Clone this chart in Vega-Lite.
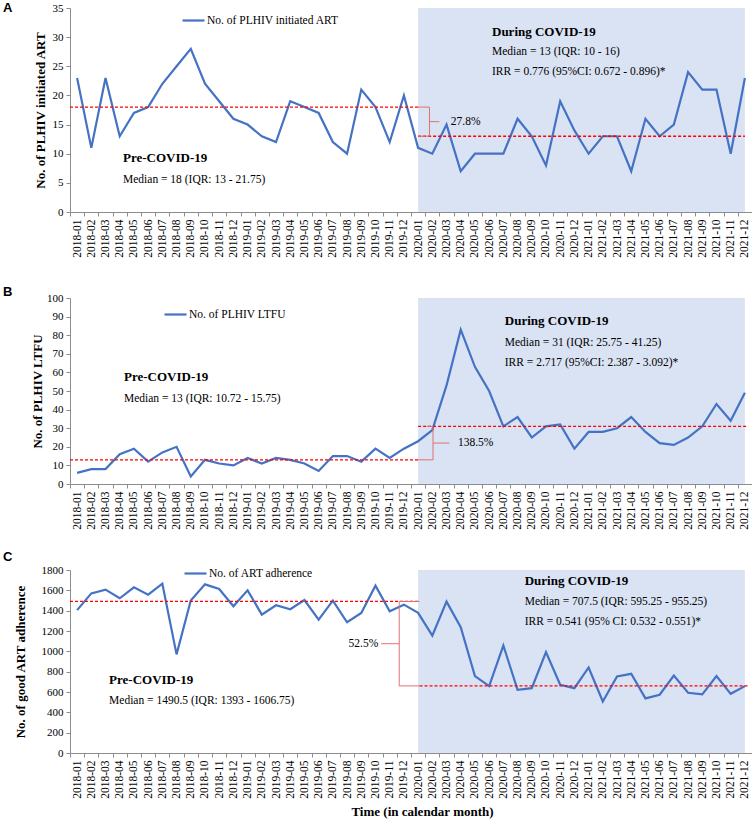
{
  "$schema": "https://vega.github.io/schema/vega-lite/v6.json",
  "background": "white",
  "padding": {"left": 3, "top": 2, "right": 0, "bottom": 0},
  "config": {
    "view": {"stroke": null},
    "font": "Liberation Serif",
    "axis": {"domainColor": "#8c8c8c", "tickColor": "#8c8c8c", "labelColor": "#000000", "labelFont": "Liberation Serif", "labelFontSize": 11, "titleFont": "Liberation Serif", "titleFontSize": 13, "titleFontWeight": "bold", "titleColor": "#000000", "grid": false, "tickSize": 4, "labelPadding": 3},
    "axisX": {"labelFontSize": 11.5, "tickOffset": -7.104, "labelOffset": 7.104, "labelAngle": -90, "labelOverlap": false, "labelFlush": false, "labelBound": false, "labelExpr": "utcFormat(utc(2018, datum.value, 1), '%Y-%m')", "tickSize": 4}
  },
  "datasets": {
    "A": [
      {"x":0,"month":"2018-01","y":23},{"x":1,"month":"2018-02","y":11},{"x":2,"month":"2018-03","y":23},{"x":3,"month":"2018-04","y":13},{"x":4,"month":"2018-05","y":17},{"x":5,"month":"2018-06","y":18},{"x":6,"month":"2018-07","y":22},{"x":7,"month":"2018-08","y":25},{"x":8,"month":"2018-09","y":28},{"x":9,"month":"2018-10","y":22},{"x":10,"month":"2018-11","y":19},{"x":11,"month":"2018-12","y":16},
      {"x":12,"month":"2019-01","y":15},{"x":13,"month":"2019-02","y":13},{"x":14,"month":"2019-03","y":12},{"x":15,"month":"2019-04","y":19},{"x":16,"month":"2019-05","y":18},{"x":17,"month":"2019-06","y":17},{"x":18,"month":"2019-07","y":12},{"x":19,"month":"2019-08","y":10},{"x":20,"month":"2019-09","y":21},{"x":21,"month":"2019-10","y":18},{"x":22,"month":"2019-11","y":12},{"x":23,"month":"2019-12","y":20},
      {"x":24,"month":"2020-01","y":11},{"x":25,"month":"2020-02","y":10},{"x":26,"month":"2020-03","y":15},{"x":27,"month":"2020-04","y":7},{"x":28,"month":"2020-05","y":10},{"x":29,"month":"2020-06","y":10},{"x":30,"month":"2020-07","y":10},{"x":31,"month":"2020-08","y":16},{"x":32,"month":"2020-09","y":13},{"x":33,"month":"2020-10","y":8},{"x":34,"month":"2020-11","y":19},{"x":35,"month":"2020-12","y":14},
      {"x":36,"month":"2021-01","y":10},{"x":37,"month":"2021-02","y":13},{"x":38,"month":"2021-03","y":13},{"x":39,"month":"2021-04","y":7},{"x":40,"month":"2021-05","y":16},{"x":41,"month":"2021-06","y":13},{"x":42,"month":"2021-07","y":15},{"x":43,"month":"2021-08","y":24},{"x":44,"month":"2021-09","y":21},{"x":45,"month":"2021-10","y":21},{"x":46,"month":"2021-11","y":10},{"x":47,"month":"2021-12","y":23}
    ],
    "B": [
      {"x":0,"month":"2018-01","y":6},{"x":1,"month":"2018-02","y":8},{"x":2,"month":"2018-03","y":8},{"x":3,"month":"2018-04","y":16},{"x":4,"month":"2018-05","y":19},{"x":5,"month":"2018-06","y":12},{"x":6,"month":"2018-07","y":17},{"x":7,"month":"2018-08","y":20},{"x":8,"month":"2018-09","y":4},{"x":9,"month":"2018-10","y":13},{"x":10,"month":"2018-11","y":11},{"x":11,"month":"2018-12","y":10},
      {"x":12,"month":"2019-01","y":14},{"x":13,"month":"2019-02","y":11},{"x":14,"month":"2019-03","y":14},{"x":15,"month":"2019-04","y":13},{"x":16,"month":"2019-05","y":11},{"x":17,"month":"2019-06","y":7},{"x":18,"month":"2019-07","y":15},{"x":19,"month":"2019-08","y":15},{"x":20,"month":"2019-09","y":12},{"x":21,"month":"2019-10","y":19},{"x":22,"month":"2019-11","y":14},{"x":23,"month":"2019-12","y":19},
      {"x":24,"month":"2020-01","y":23},{"x":25,"month":"2020-02","y":29},{"x":26,"month":"2020-03","y":53},{"x":27,"month":"2020-04","y":83},{"x":28,"month":"2020-05","y":63},{"x":29,"month":"2020-06","y":50},{"x":30,"month":"2020-07","y":31},{"x":31,"month":"2020-08","y":36},{"x":32,"month":"2020-09","y":25},{"x":33,"month":"2020-10","y":31},{"x":34,"month":"2020-11","y":32},{"x":35,"month":"2020-12","y":19},
      {"x":36,"month":"2021-01","y":28},{"x":37,"month":"2021-02","y":28},{"x":38,"month":"2021-03","y":30},{"x":39,"month":"2021-04","y":36},{"x":40,"month":"2021-05","y":28},{"x":41,"month":"2021-06","y":22},{"x":42,"month":"2021-07","y":21},{"x":43,"month":"2021-08","y":25},{"x":44,"month":"2021-09","y":31},{"x":45,"month":"2021-10","y":43},{"x":46,"month":"2021-11","y":34},{"x":47,"month":"2021-12","y":49}
    ],
    "C": [
      {"x":0,"month":"2018-01","y":1405},{"x":1,"month":"2018-02","y":1570},{"x":2,"month":"2018-03","y":1607},{"x":3,"month":"2018-04","y":1522},{"x":4,"month":"2018-05","y":1630},{"x":5,"month":"2018-06","y":1558},{"x":6,"month":"2018-07","y":1665},{"x":7,"month":"2018-08","y":970},{"x":8,"month":"2018-09","y":1500},{"x":9,"month":"2018-10","y":1659},{"x":10,"month":"2018-11","y":1613},{"x":11,"month":"2018-12","y":1443},
      {"x":12,"month":"2019-01","y":1600},{"x":13,"month":"2019-02","y":1361},{"x":14,"month":"2019-03","y":1453},{"x":15,"month":"2019-04","y":1414},{"x":16,"month":"2019-05","y":1505},{"x":17,"month":"2019-06","y":1312},{"x":18,"month":"2019-07","y":1499},{"x":19,"month":"2019-08","y":1286},{"x":20,"month":"2019-09","y":1378},{"x":21,"month":"2019-10","y":1646},{"x":22,"month":"2019-11","y":1394},{"x":23,"month":"2019-12","y":1459},
      {"x":24,"month":"2020-01","y":1378},{"x":25,"month":"2020-02","y":1155},{"x":26,"month":"2020-03","y":1489},{"x":27,"month":"2020-04","y":1237},{"x":28,"month":"2020-05","y":756},{"x":29,"month":"2020-06","y":658},{"x":30,"month":"2020-07","y":1057},{"x":31,"month":"2020-08","y":622},{"x":32,"month":"2020-09","y":638},{"x":33,"month":"2020-10","y":992},{"x":34,"month":"2020-11","y":671},{"x":35,"month":"2020-12","y":638},
      {"x":36,"month":"2021-01","y":841},{"x":37,"month":"2021-02","y":507},{"x":38,"month":"2021-03","y":753},{"x":39,"month":"2021-04","y":779},{"x":40,"month":"2021-05","y":537},{"x":41,"month":"2021-06","y":573},{"x":42,"month":"2021-07","y":762},{"x":43,"month":"2021-08","y":592},{"x":44,"month":"2021-09","y":576},{"x":45,"month":"2021-10","y":756},{"x":46,"month":"2021-11","y":582},{"x":47,"month":"2021-12","y":658}
    ]
  },
  "bounds": "flush",
  "spacing": 86,
  "resolve": {"scale": {"color": "independent"}, "legend": {"color": "independent"}},
  "vconcat": [
    {
      "width": 682, "height": 204,
      "encoding": {
        "x": {"field": "x", "type": "quantitative", "scale": {"domain": [-0.5, 47.5], "nice": false, "zero": false},
              "axis": {"values": [0,1,2,3,4,5,6,7,8,9,10,11,12,13,14,15,16,17,18,19,20,21,22,23,24,25,26,27,28,29,30,31,32,33,34,35,36,37,38,39,40,41,42,43,44,45,46,47], "title": null}},
        "y": {"field": "y", "type": "quantitative", "scale": {"domain": [0, 35], "nice": false},
              "axis": {"values": [0,5,10,15,20,25,30,35], "format": "d", "title": "No. of PLHIV initiated ART", "titlePadding": 5}}
      },
      "layer": [
        {"data": {"values": [{"x": 24, "x2": 47, "y": 0, "y2": 35}]},
         "mark": {"type": "rect", "color": "#DAE3F3"},
         "encoding": {"x2": {"field": "x2"}, "y2": {"field": "y2"}}},
        {"data": {"name": "A"},
         "mark": {"type": "line", "strokeWidth": 2.2},
         "encoding": {
           "color": {"datum": "No. of PLHIV initiated ART", "scale": {"range": ["#4472C4"]},
                     "legend": {"orient": "none", "legendX": 111, "legendY": 0, "title": null, "symbolType": "stroke", "symbolSize": 484, "symbolStrokeWidth": 2.2, "labelFont": "Liberation Serif", "labelFontSize": 11.5, "labelColor": "#000000", "padding": 0, "labelOffset": 1}}
         }},
        {"data": {"values": [{"x": -0.5, "x2": 24, "y": 18}, {"x": 24, "x2": 47, "y": 13}]},
         "mark": {"type": "rule", "color": "#FF0000", "strokeDash": [3, 2], "strokeWidth": 1.3},
         "encoding": {"x2": {"field": "x2"}}},
        {"data": {"values": [{"x": 24, "x2": 24.8, "y": 18, "y2": 18}, {"x": 24.8, "x2": 24.8, "y": 18, "y2": 13}, {"x": 24.8, "x2": 24, "y": 13, "y2": 13}, {"x": 24.8, "x2": 25.5, "y": 15.5, "y2": 15.5}]},
         "mark": {"type": "rule", "color": "#E07070", "strokeWidth": 1},
         "encoding": {"x2": {"field": "x2"}, "y2": {"field": "y2"}}},
        {"data": {"values": [{"x": 3.23, "y": 9.3, "t": "Pre-COVID-19"}, {"x": 29.2, "y": 30.9, "t": "During COVID-19"}]},
         "mark": {"type": "text", "align": "left", "baseline": "middle", "font": "Liberation Serif", "fontWeight": "bold", "fontSize": 13, "color": "#000000"},
         "encoding": {"text": {"field": "t"}}},
        {"data": {"values": [{"x": 3.23, "y": 5.5, "t": "Median = 18 (IQR: 13 - 21.75)"}, {"x": 29.2, "y": 27.4, "t": "Median = 13 (IQR: 10 - 16)"}, {"x": 29.2, "y": 24.0, "t": "IRR = 0.776 (95%CI: 0.672 - 0.896)*"}, {"x": 26.3, "y": 15.5, "t": "27.8%"}]},
         "mark": {"type": "text", "align": "left", "baseline": "middle", "font": "Liberation Serif", "fontSize": 11.5, "color": "#000000"},
         "encoding": {"text": {"field": "t"}}},
        {"data": {"values": [{"x": -0.5, "y": 35, "t": "A"}]},
         "mark": {"type": "text", "align": "left", "baseline": "top", "font": "Liberation Sans", "fontWeight": "bold", "fontSize": 13, "color": "#000000", "dx": -67, "dy": -6},
         "encoding": {"text": {"field": "t"}}}
      ]
    },
    {
      "width": 682, "height": 186,
      "encoding": {
        "x": {"field": "x", "type": "quantitative", "scale": {"domain": [-0.5, 47.5], "nice": false, "zero": false},
              "axis": {"values": [0,1,2,3,4,5,6,7,8,9,10,11,12,13,14,15,16,17,18,19,20,21,22,23,24,25,26,27,28,29,30,31,32,33,34,35,36,37,38,39,40,41,42,43,44,45,46,47], "title": null}},
        "y": {"field": "y", "type": "quantitative", "scale": {"domain": [0, 100], "nice": false},
              "axis": {"values": [0,10,20,30,40,50,60,70,80,90,100], "format": "d", "title": "No. of PLHIV LTFU", "titlePadding": 2}}
      },
      "layer": [
        {"data": {"values": [{"x": 24, "x2": 47, "y": 0, "y2": 100}]},
         "mark": {"type": "rect", "color": "#DAE3F3"},
         "encoding": {"x2": {"field": "x2"}, "y2": {"field": "y2"}}},
        {"data": {"name": "B"},
         "mark": {"type": "line", "strokeWidth": 2.2},
         "encoding": {
           "color": {"datum": "No. of PLHIV LTFU", "scale": {"range": ["#4472C4"]},
                     "legend": {"orient": "none", "legendX": 93, "legendY": 4, "title": null, "symbolType": "stroke", "symbolSize": 484, "symbolStrokeWidth": 2.2, "labelFont": "Liberation Serif", "labelFontSize": 11.5, "labelColor": "#000000", "padding": 0, "labelOffset": 1}}
         }},
        {"data": {"values": [{"x": -0.5, "x2": 24, "y": 13}, {"x": 24, "x2": 47.2, "y": 31}]},
         "mark": {"type": "rule", "color": "#FF0000", "strokeDash": [3, 2], "strokeWidth": 1.3},
         "encoding": {"x2": {"field": "x2"}}},
        {"data": {"values": [{"x": 24, "x2": 25.05, "y": 13, "y2": 13}, {"x": 25.05, "x2": 25.05, "y": 13, "y2": 31}, {"x": 25.05, "x2": 24.6, "y": 31, "y2": 31}, {"x": 25.05, "x2": 26.2, "y": 22, "y2": 22}]},
         "mark": {"type": "rule", "color": "#E07070", "strokeWidth": 1},
         "encoding": {"x2": {"field": "x2"}, "y2": {"field": "y2"}}},
        {"data": {"values": [{"x": 3.3, "y": 57.5, "t": "Pre-COVID-19"}, {"x": 30.1, "y": 87.6, "t": "During COVID-19"}]},
         "mark": {"type": "text", "align": "left", "baseline": "middle", "font": "Liberation Serif", "fontWeight": "bold", "fontSize": 13, "color": "#000000"},
         "encoding": {"text": {"field": "t"}}},
        {"data": {"values": [{"x": 3.3, "y": 45.7, "t": "Median = 13 (IQR: 10.72 - 15.75)"}, {"x": 30.1, "y": 75.8, "t": "Median = 31 (IQR: 25.75 - 41.25)"}, {"x": 30.1, "y": 65, "t": "IRR = 2.717 (95%CI: 2.387 - 3.092)*"}, {"x": 26.8, "y": 22, "t": "138.5%"}]},
         "mark": {"type": "text", "align": "left", "baseline": "middle", "font": "Liberation Serif", "fontSize": 11.5, "color": "#000000"},
         "encoding": {"text": {"field": "t"}}},
        {"data": {"values": [{"x": -0.5, "y": 100, "t": "B"}]},
         "mark": {"type": "text", "align": "left", "baseline": "top", "font": "Liberation Sans", "fontWeight": "bold", "fontSize": 13, "color": "#000000", "dx": -67, "dy": -12},
         "encoding": {"text": {"field": "t"}}}
      ]
    },
    {
      "width": 682, "height": 183,
      "encoding": {
        "x": {"field": "x", "type": "quantitative", "scale": {"domain": [-0.5, 47.5], "nice": false, "zero": false},
              "axis": {"values": [0,1,2,3,4,5,6,7,8,9,10,11,12,13,14,15,16,17,18,19,20,21,22,23,24,25,26,27,28,29,30,31,32,33,34,35,36,37,38,39,40,41,42,43,44,45,46,47], "title": "Time (in calendar month)", "titlePadding": 7, "titleX": 352, "titleAlign": "center"}},
        "y": {"field": "y", "type": "quantitative", "scale": {"domain": [0, 1800], "nice": false},
              "axis": {"values": [0,200,400,600,800,1000,1200,1400,1600,1800], "format": "d", "title": "No. of good ART adherence", "titlePadding": 14}}
      },
      "layer": [
        {"data": {"values": [{"x": 24, "x2": 47, "y": 0, "y2": 1800}]},
         "mark": {"type": "rect", "color": "#DAE3F3"},
         "encoding": {"x2": {"field": "x2"}, "y2": {"field": "y2"}}},
        {"data": {"name": "C"},
         "mark": {"type": "line", "strokeWidth": 2.2},
         "encoding": {
           "color": {"datum": "No. of ART adherence", "scale": {"range": ["#4472C4"]},
                     "legend": {"orient": "none", "legendX": 113, "legendY": -9, "title": null, "symbolType": "stroke", "symbolSize": 484, "symbolStrokeWidth": 2.2, "labelFont": "Liberation Serif", "labelFontSize": 11.5, "labelColor": "#000000", "padding": 0, "labelOffset": 1}}
         }},
        {"data": {"values": [{"x": -0.5, "x2": 24.1, "y": 1490.5}, {"x": 24.1, "x2": 47.2, "y": 660}]},
         "mark": {"type": "rule", "color": "#FF0000", "strokeDash": [3, 2], "strokeWidth": 1.3},
         "encoding": {"x2": {"field": "x2"}}},
        {"data": {"values": [{"x": 24.1, "x2": 22.67, "y": 1490.5, "y2": 1490.5}, {"x": 22.67, "x2": 22.67, "y": 1490.5, "y2": 660}, {"x": 22.67, "x2": 24.1, "y": 660, "y2": 660}, {"x": 22.67, "x2": 21.4, "y": 1075, "y2": 1075}]},
         "mark": {"type": "rule", "color": "#E07070", "strokeWidth": 1},
         "encoding": {"x2": {"field": "x2"}, "y2": {"field": "y2"}}},
        {"data": {"values": [{"x": 2.25, "y": 718, "t": "Pre-COVID-19"}, {"x": 31.5, "y": 1691, "t": "During COVID-19"}]},
         "mark": {"type": "text", "align": "left", "baseline": "middle", "font": "Liberation Serif", "fontWeight": "bold", "fontSize": 13, "color": "#000000"},
         "encoding": {"text": {"field": "t"}}},
        {"data": {"values": [{"x": 2.25, "y": 511, "t": "Median = 1490.5 (IQR: 1393 - 1606.75)"}, {"x": 31.5, "y": 1485, "t": "Median = 707.5 (IQR: 595.25 - 955.25)"}, {"x": 31.5, "y": 1288, "t": "IRR = 0.541 (95% CI: 0.532 - 0.551)*"}]},
         "mark": {"type": "text", "align": "left", "baseline": "middle", "font": "Liberation Serif", "fontSize": 11.5, "color": "#000000"},
         "encoding": {"text": {"field": "t"}}},
        {"data": {"values": [{"x": 21.2, "y": 1075, "t": "52.5%"}]},
         "mark": {"type": "text", "align": "right", "baseline": "middle", "font": "Liberation Serif", "fontSize": 11.5, "color": "#000000"},
         "encoding": {"text": {"field": "t"}}},
        {"data": {"values": [{"x": -0.5, "y": 1800, "t": "C"}]},
         "mark": {"type": "text", "align": "left", "baseline": "top", "font": "Liberation Sans", "fontWeight": "bold", "fontSize": 13, "color": "#000000", "dx": -67, "dy": -19},
         "encoding": {"text": {"field": "t"}}}
      ]
    }
  ]
}
